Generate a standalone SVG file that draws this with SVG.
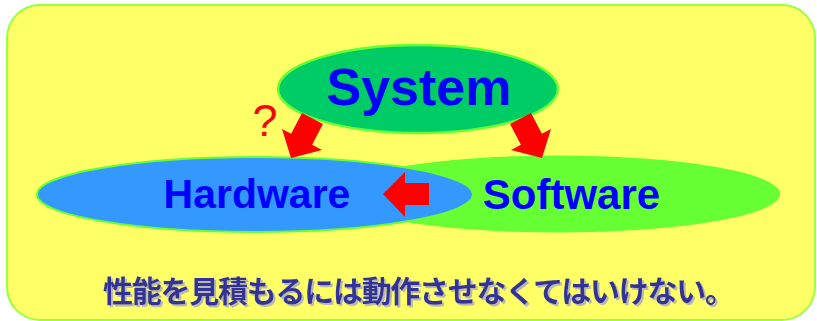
<svg xmlns="http://www.w3.org/2000/svg" width="817" height="321" viewBox="0 0 817 321">
<defs>
<filter id="shadow" x="-5%" y="-30%" width="110%" height="160%">
<feOffset in="SourceAlpha" dx="2" dy="2" result="off"/>
<feFlood flood-color="#B8B8B0"/>
<feComposite in2="off" operator="in" result="sh"/>
<feMerge><feMergeNode in="sh"/><feMergeNode in="SourceGraphic"/></feMerge>
</filter>
</defs>
<style>
.node-label{font-family:"Liberation Sans",Arial,sans-serif;font-weight:bold;fill:#0000FF;text-anchor:middle}
.arrow{fill:#FF0000;stroke:none}
.caption{font-family:"Noto Sans CJK JP","Noto Sans",sans-serif;font-weight:bold;font-size:30px;fill:#333399}
</style>
<rect x="7" y="5" width="808" height="315" rx="33" ry="33" fill="#FFFF66" stroke="#99FF44" stroke-width="2"/>
<g id="software">
<ellipse cx="558" cy="194" rx="222" ry="38.5" fill="#66FF33"/>
<text class="node-label" x="571.5" y="209" font-size="42">Software</text>
</g>
<g id="hardware">
<ellipse cx="255" cy="194.5" rx="218" ry="37.5" fill="#3399FF" stroke="#66FF33" stroke-width="2"/>
<text class="node-label" x="257" y="208" font-size="41">Hardware</text>
</g>
<g id="system">
<ellipse cx="418" cy="89" rx="140" ry="44" fill="#00CC66" stroke="#66FF33" stroke-width="2.5"/>
<text class="node-label" x="419" y="105" font-size="52">System</text>
</g>
<g id="connectors">
<polygon class="arrow" points="302,113 323,124 312.1,144.8 322,150 291,158 282,129 291.1,133.8"/>
<polygon class="arrow" points="531,113 510,124 520.9,144.8 511,150 542,158 551,129 541.9,133.8"/>
<polygon class="arrow" points="429,183 405,183 405,172 383,194 405,217 405,205 429,205"/>
<text x="265" y="136" font-family="Liberation Sans,Arial,sans-serif" font-size="45" fill="#FF0000" text-anchor="middle">?</text>
</g>
<g id="caption">
<text class="caption" x="103" y="302" filter="url(#shadow)" textLength="632" lengthAdjust="spacing">性能を見積もるには動作させなくてはいけない。</text>
</g>
</svg>
